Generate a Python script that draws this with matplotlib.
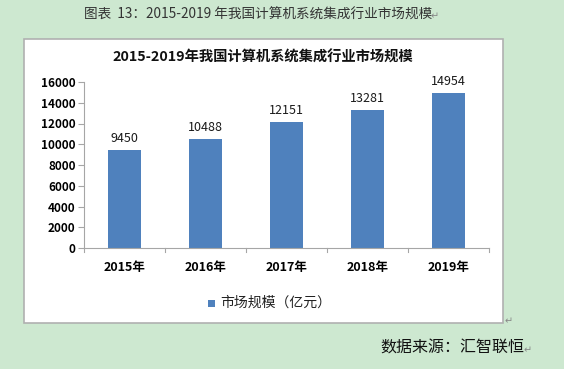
import matplotlib.pyplot as plt
import matplotlib.patches as patches

plt.rcParams['font.family'] = ['Noto Sans CJK SC', 'DejaVu Sans']

# dados
anos = ['2015年', '2016年', '2017年', '2018年', '2019年']
valores = [9450, 10488, 12151, 13281, 14954]
ticks_y = [0, 2000, 4000, 6000, 8000, 10000, 12000, 14000, 16000]

cor_fundo = '#cde8d0'
cor_barra = '#4f81bd'
cor_eixo = '#a6a6a6'

W, H = 564, 369
fig = plt.figure(figsize=(W / 100, H / 100), dpi=100, facecolor=cor_fundo)

# caixa branca do gráfico (atrás dos eixos)
fig.patches.append(patches.Rectangle((24 / W, 1 - 323 / H), (503 - 24) / W, (323 - 39) / H,
                                     transform=fig.transFigure, fc='white', ec='#b0b0b0', lw=1.2, zorder=-5))

ax = fig.add_axes([84 / W, 1 - 248 / H, (489 - 84) / W, (248 - 82) / H])
ax.set_facecolor('none')
x = range(len(anos))
ax.bar(x, valores, width=0.41, color=cor_barra, zorder=2)
for xi, v in zip(x, valores):
    ax.text(xi, v + 500, str(v), ha='center', va='bottom', fontsize=9, color='#1a1a1a')

ax.set_xlim(-0.5, len(anos) - 0.5)
ax.set_ylim(0, 16000)
ax.set_yticks(ticks_y)
ax.set_yticklabels([str(t) for t in ticks_y], fontsize=8.5, fontweight='bold')
ax.set_xticks(list(x))
ax.set_xticklabels(anos, fontsize=9, fontweight='bold')
ax.tick_params(axis='x', length=0, pad=9)
ax.tick_params(axis='y', length=4, color=cor_eixo, pad=2)
# marcas entre categorias
for b in [i - 0.5 for i in range(len(anos) + 1)]:
    ax.plot([b, b], [0, -350], color=cor_eixo, lw=0.8, clip_on=False)
for s in ['top', 'right']:
    ax.spines[s].set_visible(False)
for s in ['left', 'bottom']:
    ax.spines[s].set_color(cor_eixo)

# título do gráfico
fig.text(263 / W, 1 - 58 / H, '2015-2019年我国计算机系统集成行业市场规模', ha='center', va='center',
         fontsize=10.3, fontweight='bold', color='#111111')

# legenda
fig.patches.append(patches.Rectangle((208 / W, 1 - 307 / H), 7 / W, 7 / H,
                                     transform=fig.transFigure, fc=cor_barra, ec='none'))
fig.text(220 / W, 1 - 303 / H, '市场规模（亿元）', ha='left', va='center', fontsize=10, color='#222222')

# legenda superior e fonte
fig.text(84 / W, 1 - 15 / H, '图表  13：2015-2019 年我国计算机系统集成行业市场规模', ha='left', va='center',
         fontsize=9.8, color='#333333')
fig.text(431 / W, 1 - 16 / H, '↵', ha='left', va='center', fontsize=7, color='#888888', family='DejaVu Sans')
fig.text(505 / W, 1 - 321 / H, '↵', ha='left', va='center', fontsize=7, color='#888888', family='DejaVu Sans')
fig.text(380 / W, 1 - 348 / H, '数据来源：汇智联恒', ha='left', va='center', fontsize=11.5, color='#111111')
fig.text(524 / W, 1 - 350 / H, '↵', ha='left', va='center', fontsize=7, color='#888888', family='DejaVu Sans')

fig.savefig('out.png', dpi=100, facecolor=cor_fundo)
